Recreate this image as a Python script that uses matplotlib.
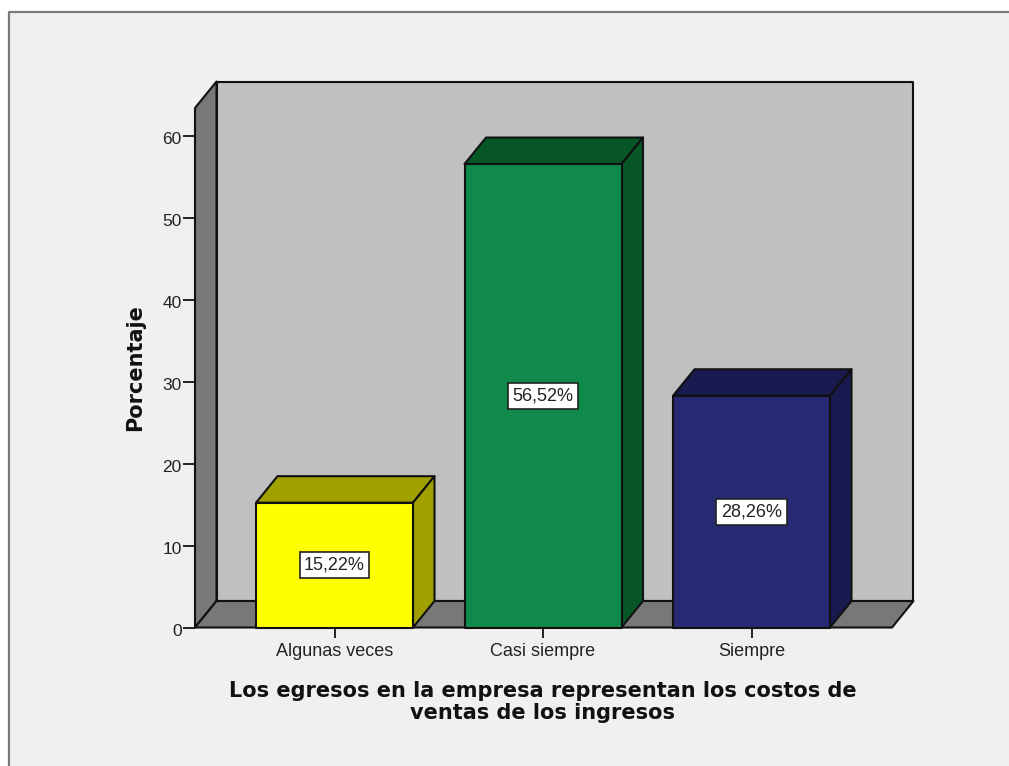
import matplotlib
matplotlib.use('Agg')
import matplotlib.pyplot as plt
from matplotlib.patches import Polygon, Rectangle
from matplotlib.transforms import ScaledTranslation

# Values
categories = ['Algunas veces', 'Casi siempre', 'Siempre']
values = [15.22, 56.52, 28.26]
labels = ['15,22%', '56,52%', '28,26%']
y_ticks = [0, 10, 20, 30, 40, 50, 60]

# Bar colours: front face, then top and side
front_colors = ['#ffff00', '#108a4a', '#272974']
shade_colors = ['#a0a000', '#075627', '#191a4f']

W, H = 1009, 766
fig = plt.figure(figsize=(W / 100, H / 100), dpi=100, facecolor='white')

# Panel background with the grey frame on top and left only
fig.patches.append(Rectangle((8 / W, 0), 1 - 8 / W, 1 - 12 / H, transform=fig.transFigure,
                             facecolor='#f0f0f0', edgecolor='none', zorder=-2))
fig.add_artist(plt.Line2D([8.5 / W, 8.5 / W, 1], [0, 1 - 12 / H, 1 - 12 / H],
                          color='#7a7a7a', lw=1.6, zorder=-1))

# Axes covers the front floor edge and the left wall height
left, right, bottom, top = 195, 892, 627.5, 108
ax = fig.add_axes([left / W, 1 - bottom / H, (right - left) / W, (bottom - top) / H])
ax.patch.set_visible(False)
px_x = 208.5   # pixels per category
px_y = 8.2     # pixels per percent
ax.set_xlim((left - 334.5) / px_x, (right - 334.5) / px_x)
ax.set_ylim(0, (bottom - top) / px_y)

dx = 21.5 / px_x
dy = 26.5 / px_y
x0, x1 = ax.get_xlim()
y1 = ax.get_ylim()[1]
edge = {'edgecolor': '#111111', 'linewidth': 1.5, 'clip_on': False, 'joinstyle': 'round'}

# Box walls
ax.add_patch(Polygon([(x0 + dx, dy), (x1 + dx, dy), (x1 + dx, y1 + dy), (x0 + dx, y1 + dy)],
                     facecolor='#c0c0c0', **edge))
ax.add_patch(Polygon([(x0, 0), (x0 + dx, dy), (x0 + dx, y1 + dy), (x0, y1)],
                     facecolor='#787878', **edge))
ax.add_patch(Polygon([(x0, 0), (x1, 0), (x1 + dx, dy), (x0 + dx, dy)],
                     facecolor='#787878', **edge))

# Bars
bar_w = 157 / px_x
for i, v in enumerate(values):
    a, b = i - bar_w / 2, i + bar_w / 2
    ax.add_patch(Polygon([(a, v), (b, v), (b + dx, v + dy), (a + dx, v + dy)],
                         facecolor=shade_colors[i], zorder=3, **edge))
    ax.add_patch(Polygon([(b, 0), (b + dx, dy), (b + dx, v + dy), (b, v)],
                         facecolor=shade_colors[i], zorder=3, **edge))
    ax.add_patch(Rectangle((a, 0), bar_w, v, facecolor=front_colors[i], zorder=4, **edge))
    ax.text(i, v / 2, labels[i], ha='center', va='center', fontsize=13, zorder=5,
            family='Liberation Sans', color='#222222',
            bbox=dict(boxstyle='square,pad=0.25', facecolor='white', edgecolor='#222222', linewidth=1.2))

for s in ax.spines.values():
    s.set_visible(False)

ax.set_xticks(range(len(categories)))
ax.set_xticklabels(categories, family='Liberation Sans', fontsize=13, color='#222222')
ax.set_yticks(y_ticks)
ax.set_yticklabels([str(t) for t in y_ticks], family='Liberation Sans', fontsize=12.5, color='#222222')
ax.tick_params(axis='x', length=7.5, width=1.2, pad=3.5)
ax.tick_params(axis='y', length=8.5, width=1.2, pad=1)

# y labels sit a little under their ticks
shift = ScaledTranslation(0, -3 / 100, fig.dpi_scale_trans)
for t in ax.get_yticklabels():
    t.set_transform(t.get_transform() + shift)

fig.text(135.5 / W, 1 - 368 / H, 'Porcentaje', rotation=90, ha='center', va='center',
         family='DejaVu Sans', fontweight='bold', fontsize=15, color='#111111')
fig.text(543 / W, 1 - 702 / H,
         'Los egresos en la empresa representan los costos de\nventas de los ingresos',
         ha='center', va='center', family='DejaVu Sans', fontweight='bold', fontsize=15,
         color='#111111', linespacing=1.08)

fig.savefig('out.png', dpi=100, facecolor='white')
